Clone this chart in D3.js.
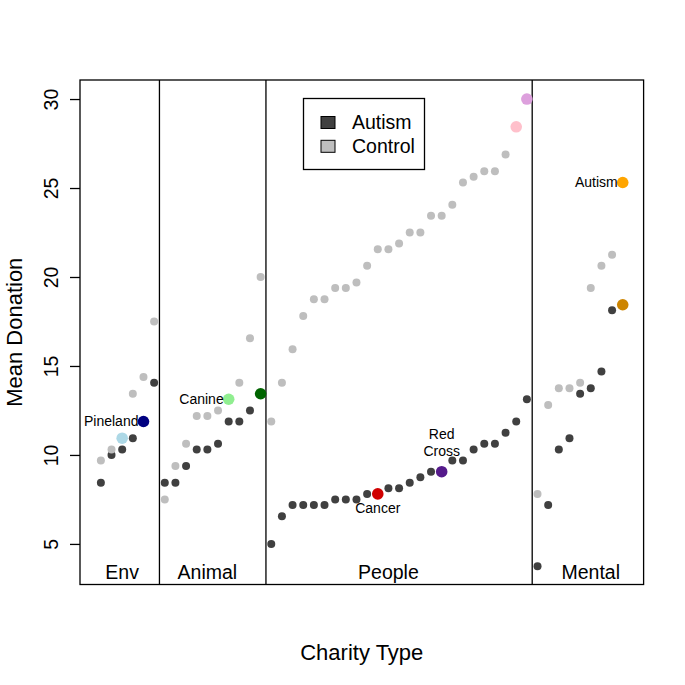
<!DOCTYPE html>
<html>
<head>
<meta charset="utf-8">
<script src="https://cdn.jsdelivr.net/npm/d3@7"></script>
<style>
  html, body { margin: 0; padding: 0; background: #fff; }
  svg { display: block; font-family: "Liberation Sans", Arial, Helvetica, sans-serif; }
</style>
</head>
<body>
<svg id="chart" width="685" height="685"></svg>
<script>
// ---- Data ----
const categories = ["Env", "Animal", "People", "Mental"];
const envAutism     = [8.44, 10.00, 10.31, 10.94, 11.88, 14.06];
const envControl    = [9.69, 10.31, 10.94, 13.44, 14.38, 17.50];
const animalAutism  = [8.44, 8.44, 9.38, 10.31, 10.31, 10.63, 11.88, 11.88, 12.50, 13.44];
const animalControl = [7.50, 9.38, 10.63, 12.19, 12.19, 12.50, 13.13, 14.06, 16.56, 20.00];
const peopleAutism  = [5.00, 6.56, 7.19, 7.19, 7.19, 7.19, 7.50, 7.50, 7.50, 7.81, 7.81, 8.13, 8.13,
                       8.44, 8.75, 9.06, 9.06, 9.69, 9.69, 10.31, 10.63, 10.63, 11.25, 11.88, 13.13];
const peopleControl = [11.88, 14.06, 15.94, 17.81, 18.75, 18.75, 19.38, 19.38, 19.69, 20.63, 21.56, 21.56, 21.88,
                       22.50, 22.50, 23.44, 23.44, 24.06, 25.31, 25.63, 25.94, 25.94, 26.88, 28.44, 30.00];
const mentalAutism  = [3.75, 7.19, 10.31, 10.94, 13.44, 13.75, 14.69, 18.13, 18.44];
const mentalControl = [7.81, 12.81, 13.75, 13.75, 14.06, 19.38, 20.63, 21.25, 25.31];
const yTicks = [5, 10, 15, 20, 25, 30];
const seriesNames = ["Autism", "Control"];
const seriesColors = ["#404040", "#bebebe"];
// highlighted charities: category, series, rank within category, colour, label
const highlights = [
  {cat: "Env",    series: "Autism",  rank: 4,  color: "#000080", label: "Pineland", pos: "left"},
  {cat: "Env",    series: "Control", rank: 2,  color: "#add8e6", label: "",         pos: ""},
  {cat: "Animal", series: "Autism",  rank: 9,  color: "#006400", label: "",         pos: ""},
  {cat: "Animal", series: "Control", rank: 6,  color: "#90ee90", label: "Canine",   pos: "left"},
  {cat: "People", series: "Autism",  rank: 10, color: "#d00000", label: "Cancer",   pos: "below"},
  {cat: "People", series: "Autism",  rank: 16, color: "#551a8b", label: "Red\nCross", pos: "above"},
  {cat: "People", series: "Control", rank: 23, color: "#ffc0cb", label: "",         pos: ""},
  {cat: "People", series: "Control", rank: 24, color: "#dda0dd", label: "",         pos: ""},
  {cat: "Mental", series: "Autism",  rank: 8,  color: "#cd8500", label: "",         pos: ""},
  {cat: "Mental", series: "Control", rank: 8,  color: "#ffa500", label: "Autism",   pos: "left"}
];
const catLabelIndex = [3, 11, 28, 47];

// ---- Build records ----
const groups = [
  [envAutism, envControl], [animalAutism, animalControl],
  [peopleAutism, peopleControl], [mentalAutism, mentalControl]
];
const points = [];
const bounds = [];
let idx = 1;
groups.forEach((g, ci) => {
  const start = idx;
  g[0].forEach((v, i) => {
    points.push({cat: categories[ci], series: "Autism", rank: i, x: idx + i, v});
    points.push({cat: categories[ci], series: "Control", rank: i, x: idx + i, v: g[1][i]});
  });
  idx += g[0].length;
  bounds.push([start, idx - 1]);
});
const N = idx - 1;

// ---- Layout ----
const svg = d3.select("#chart");
const L = 80, R = 643.6, T = 80, B = 584.5;
const pad = (N - 1) * 0.04;
const x = d3.scaleLinear().domain([1 - pad, N + pad]).range([L, R]);
const y = d3.scaleLinear().domain([2.72, 31.07]).range([B, T]);

// category separators
bounds.slice(0, -1).forEach(b => {
  svg.append("line")
    .attr("x1", x(b[1] + 0.5)).attr("x2", x(b[1] + 0.5))
    .attr("y1", T).attr("y2", B)
    .attr("stroke", "#000").attr("stroke-width", 1.3);
});

// category labels
categories.forEach((c, i) => {
  svg.append("text").attr("x", x(catLabelIndex[i])).attr("y", 578.5)
    .attr("text-anchor", "middle").attr("font-size", 19.5).attr("fill", "#000").text(c);
});

// points
const hlKey = h => h.cat + "|" + h.series + "|" + h.rank;
const hlMap = new Map(highlights.map(h => [hlKey(h), h]));
const plain = points.filter(p => !hlMap.has(hlKey(p)));
svg.append("g").selectAll("circle").data(plain).join("circle")
  .attr("cx", d => x(d.x)).attr("cy", d => y(d.v)).attr("r", 4)
  .attr("fill", d => seriesColors[seriesNames.indexOf(d.series)]);

const hpts = points.filter(p => hlMap.has(hlKey(p))).map(p => Object.assign({}, p, hlMap.get(hlKey(p))));
svg.append("g").selectAll("circle").data(hpts).join("circle")
  .attr("cx", d => x(d.x)).attr("cy", d => y(d.v)).attr("r", 5.8)
  .attr("fill", d => d.color);

// annotations
const annSize = 14;
hpts.filter(d => d.label).forEach(d => {
  const cx = x(d.x), cy = y(d.v);
  if (d.pos === "left") {
    svg.append("text").attr("font-size", annSize).attr("fill", "#000")
      .attr("x", cx - 5).attr("y", cy).attr("dy", "0.35em").attr("text-anchor", "end").text(d.label);
  } else if (d.pos === "below") {
    svg.append("text").attr("font-size", annSize).attr("fill", "#000")
      .attr("x", cx).attr("y", cy + 19.5).attr("text-anchor", "middle").text(d.label);
  } else if (d.pos === "above") {
    const lines = d.label.split("\n");
    lines.forEach((ln, i) => {
      svg.append("text").attr("font-size", annSize).attr("fill", "#000")
        .attr("x", cx).attr("y", cy - 15.7 - (lines.length - 1 - i) * 16.7)
        .attr("text-anchor", "middle").text(ln);
    });
  }
});

// box
svg.append("rect").attr("x", L).attr("y", T).attr("width", R - L).attr("height", B - T)
  .attr("fill", "none").attr("stroke", "#000").attr("stroke-width", 1.3);

// y axis
const yAxis = d3.axisLeft(y).tickValues(yTicks).tickSize(10).tickFormat(d3.format("d"));
const ga = svg.append("g").attr("transform", `translate(${L},0)`).call(yAxis);
ga.select(".domain").remove();
ga.selectAll(".tick line").attr("stroke", "#000").attr("stroke-width", 1.3);
ga.selectAll(".tick text")
  .attr("x", 0).attr("dy", 0).attr("y", 0)
  .attr("transform", "translate(-22,0) rotate(-90)")
  .attr("text-anchor", "middle")
  .attr("font-size", 19.5).attr("fill", "#000")
  .attr("font-family", "Liberation Sans, Arial, sans-serif");

// axis titles
svg.append("text").attr("x", (L + R) / 2).attr("y", 660)
  .attr("text-anchor", "middle").attr("font-size", 22).text("Charity Type");
svg.append("text").attr("transform", `translate(22,${(T + B) / 2}) rotate(-90)`)
  .attr("text-anchor", "middle").attr("font-size", 22).text("Mean Donation");

// legend
const lg = svg.append("g");
lg.append("rect").attr("x", 303.5).attr("y", 98.5).attr("width", 121).attr("height", 71)
  .attr("fill", "#fff").attr("stroke", "#000").attr("stroke-width", 1.3);
seriesNames.forEach((s, i) => {
  lg.append("rect").attr("x", 321).attr("y", 116.5 + i * 23.8).attr("width", 14).attr("height", 12)
    .attr("fill", seriesColors[i]).attr("stroke", "#000").attr("stroke-width", 1);
  lg.append("text").attr("x", 352).attr("y", 129 + i * 23.8).attr("font-size", 19.5).text(s);
});
</script>
</body>
</html>
